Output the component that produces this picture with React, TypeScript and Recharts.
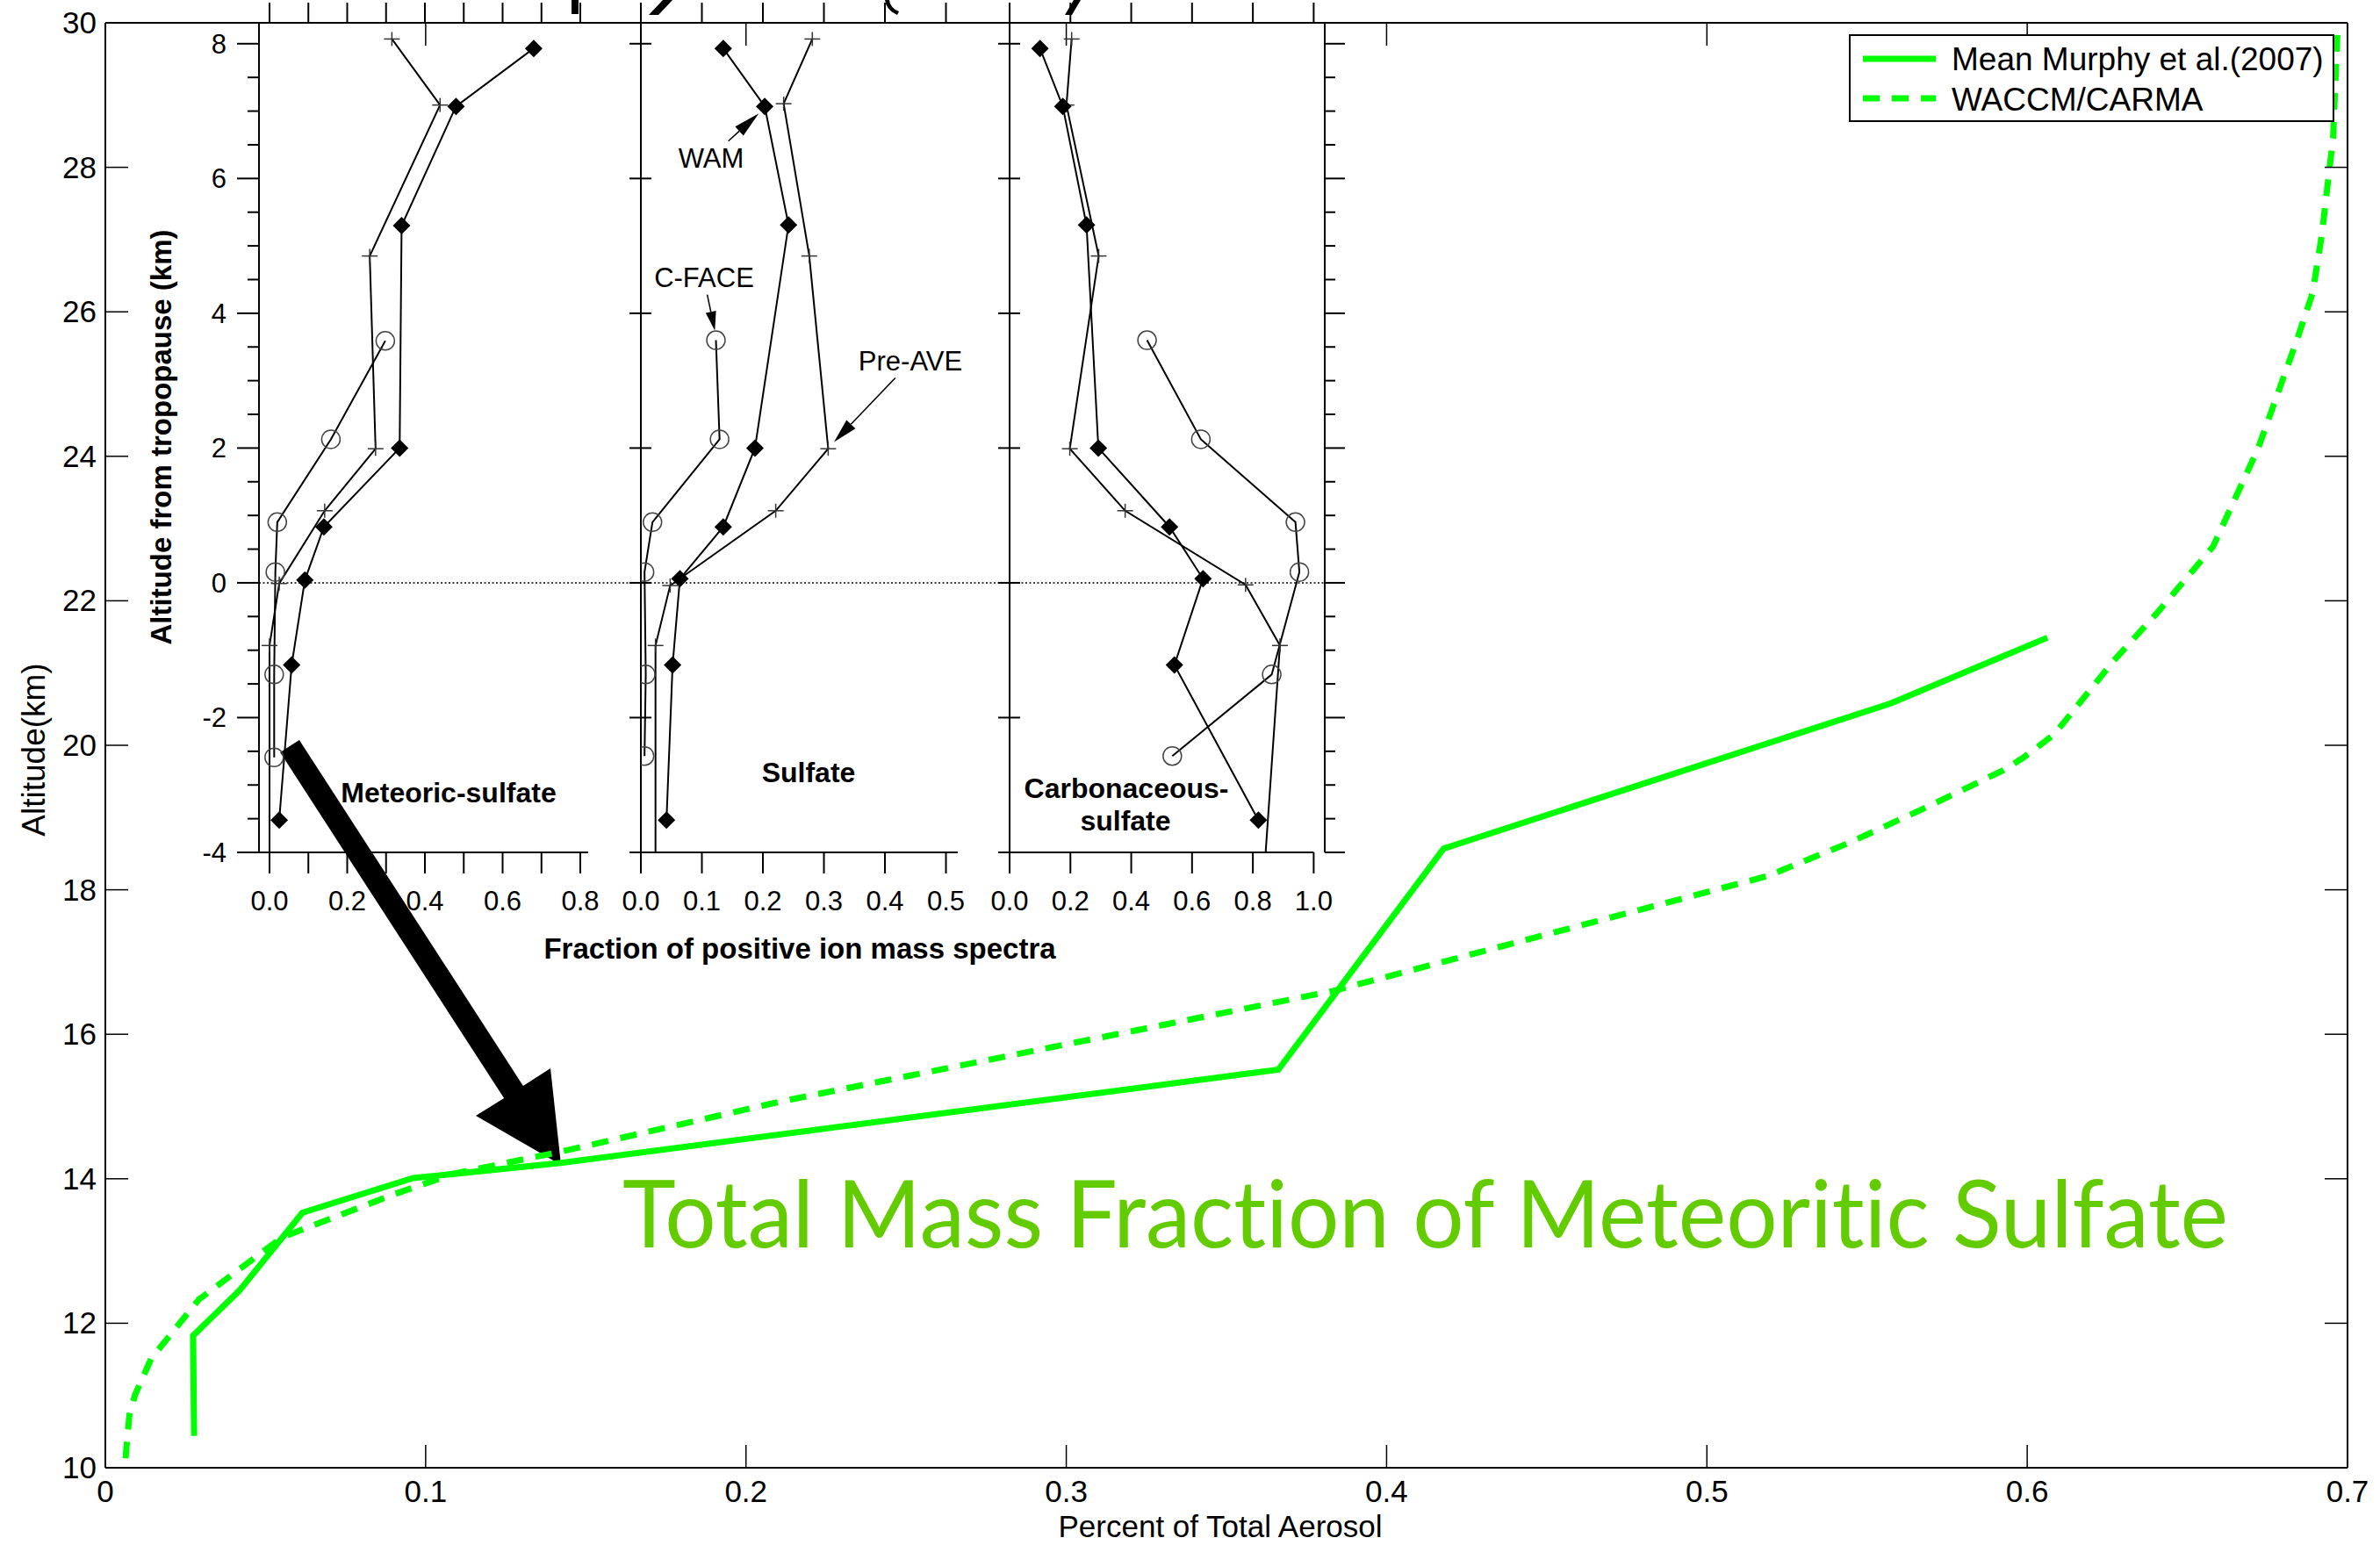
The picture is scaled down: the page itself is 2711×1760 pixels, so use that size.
import React from 'react';
import { LineChart, Line, XAxis, YAxis, ReferenceLine, Legend, Customized, Label } from 'recharts';

const W = 2711;
const H = 1760;
const FONT = '"Liberation Sans", Arial, Helvetica, sans-serif';
const GREEN = '#00ff00';
const TEXT_GREEN = '#63cc00';

// ---------------- main chart data ----------------
const mainXTicks = [0, 0.1, 0.2, 0.3, 0.4, 0.5, 0.6, 0.7];
const mainXTickLabels = ['0', '0.1', '0.2', '0.3', '0.4', '0.5', '0.6', '0.7'];
const mainYTicks = [10, 12, 14, 16, 18, 20, 22, 24, 26, 28, 30];
const mainYTickLabels = ['10', '12', '14', '16', '18', '20', '22', '24', '26', '28', '30'];

const murphyMean = [
  { x: 0.0277, y: 10.44 },
  { x: 0.0274, y: 11.83 },
  { x: 0.0418, y: 12.45 },
  { x: 0.0615, y: 13.53 },
  { x: 0.0961, y: 14.01 },
  { x: 0.1422, y: 14.22 },
  { x: 0.3662, y: 15.51 },
  { x: 0.4178, y: 18.57 },
  { x: 0.5574, y: 20.58 },
  { x: 0.6063, y: 21.49 },
];

const waccmCarma = [
  { x: 0.0063, y: 10.13 },
  { x: 0.0075, y: 10.73 },
  { x: 0.0092, y: 11.0 },
  { x: 0.0143, y: 11.51 },
  { x: 0.0292, y: 12.33 },
  { x: 0.0552, y: 13.19 },
  { x: 0.0898, y: 13.78 },
  { x: 0.1087, y: 14.07 },
  { x: 0.1417, y: 14.37 },
  { x: 0.2109, y: 15.07 },
  { x: 0.3833, y: 16.6 },
  { x: 0.5189, y: 18.19 },
  { x: 0.5444, y: 18.65 },
  { x: 0.5699, y: 19.17 },
  { x: 0.5923, y: 19.65 },
  { x: 0.5985, y: 19.82 },
  { x: 0.6084, y: 20.15 },
  { x: 0.627, y: 21.17 },
  { x: 0.6407, y: 21.84 },
  { x: 0.658, y: 22.75 },
  { x: 0.672, y: 24.1 },
  { x: 0.6842, y: 25.61 },
  { x: 0.6891, y: 26.26 },
  { x: 0.692, y: 27.07 },
  { x: 0.6941, y: 27.88 },
  { x: 0.6955, y: 28.41 },
  { x: 0.6969, y: 29.92 },
  { x: 0.6973, y: 30.0 },
];

// ---------------- inset data ----------------
const insetYMin = -4;
const insetYMax = 8.31;
const insetYTicks = [-4, -3.5, -3, -2.5, -2, -1.5, -1, -0.5, 0, 0.5, 1, 1.5, 2, 2.5, 3, 3.5, 4, 4.5, 5, 5.5, 6, 6.5, 7, 7.5, 8];
const insetYMajor = [-4, -2, 0, 2, 4, 6, 8];
const insetYTickLabels = ['-4', '-2', '0', '2', '4', '6', '8'];

const meteoricXTicks = [0, 0.1, 0.2, 0.3, 0.4, 0.5, 0.6, 0.7, 0.8];
const meteoricXTickLabels = ['0.0', '', '0.2', '', '0.4', '', '0.6', '', '0.8'];
const sulfateXTicks = [0, 0.1, 0.2, 0.3, 0.4, 0.5];
const sulfateXTickLabels = ['0.0', '0.1', '0.2', '0.3', '0.4', '0.5'];
const carbXTicks = [0, 0.2, 0.4, 0.6, 0.8, 1.0];
const carbXTickLabels = ['0.0', '0.2', '0.4', '0.6', '0.8', '1.0'];

const meteoricPreAve = [
  { x: 0.315, y: 8.07 }, { x: 0.439, y: 7.09 }, { x: 0.258, y: 4.85 }, { x: 0.273, y: 1.99 },
  { x: 0.142, y: 1.07 }, { x: 0.025, y: -0.01 }, { x: 0.0, y: -0.93 }, { x: 0.0, y: -4.0 },
];
const meteoricWam = [
  { x: 0.68, y: 7.93 }, { x: 0.48, y: 7.07 }, { x: 0.34, y: 5.3 }, { x: 0.335, y: 2.0 },
  { x: 0.14, y: 0.83 }, { x: 0.091, y: 0.04 }, { x: 0.057, y: -1.22 }, { x: 0.025, y: -3.52 },
];
const meteoricCface = [
  { x: 0.298, y: 3.59 }, { x: 0.158, y: 2.13 }, { x: 0.02, y: 0.9 }, { x: 0.015, y: 0.16 },
  { x: 0.012, y: -1.36 }, { x: 0.012, y: -2.59 },
];

const sulfatePreAve = [
  { x: 0.281, y: 8.07 }, { x: 0.234, y: 7.11 }, { x: 0.276, y: 4.85 }, { x: 0.307, y: 1.99 },
  { x: 0.221, y: 1.07 }, { x: 0.048, y: -0.04 }, { x: 0.024, y: -0.93 }, { x: 0.024, y: -4.0 },
];
const sulfateWam = [
  { x: 0.135, y: 7.93 }, { x: 0.203, y: 7.07 }, { x: 0.242, y: 5.31 }, { x: 0.187, y: 2.0 },
  { x: 0.135, y: 0.83 }, { x: 0.064, y: 0.06 }, { x: 0.052, y: -1.22 }, { x: 0.042, y: -3.52 },
];
const sulfateCface = [
  { x: 0.123, y: 3.6 }, { x: 0.129, y: 2.13 }, { x: 0.019, y: 0.9 }, { x: 0.006, y: 0.16 },
  { x: 0.008, y: -1.36 }, { x: 0.006, y: -2.57 },
];

const carbPreAve = [
  { x: 0.204, y: 8.07 }, { x: 0.187, y: 7.09 }, { x: 0.293, y: 4.85 }, { x: 0.198, y: 1.99 },
  { x: 0.38, y: 1.07 }, { x: 0.776, y: -0.03 }, { x: 0.889, y: -0.93 }, { x: 0.842, y: -4.0 },
];
const carbWam = [
  { x: 0.1, y: 7.93 }, { x: 0.175, y: 7.07 }, { x: 0.253, y: 5.31 }, { x: 0.292, y: 2.0 },
  { x: 0.526, y: 0.83 }, { x: 0.636, y: 0.06 }, { x: 0.542, y: -1.22 }, { x: 0.818, y: -3.52 },
];
const carbCface = [
  { x: 0.452, y: 3.6 }, { x: 0.629, y: 2.13 }, { x: 0.94, y: 0.9 }, { x: 0.953, y: 0.16 },
  { x: 0.862, y: -1.36 }, { x: 0.535, y: -2.57 },
];

// ---------------- layout ----------------
const MAIN = { left: 120, right: 2674, top: 26, bottom: 1672 };
const INSET_TOP = 26;
const INSET_BOTTOM = 971;
const P1 = { left: 295, right: 670, domain: [-0.0271, 0.8203] as [number, number] };
const P2 = { left: 730, right: 1091, domain: [0, 0.5194] as [number, number] };
const P3 = { left: 1150, right: 1509, domain: [0, 1.0364] as [number, number] };

const idxOf = (arr: number[], v: number) => arr.findIndex((a) => Math.abs(a - v) < 1e-9);

// ---------------- tick renderers ----------------
const mainXTick = (p: any) => {
  const { x, y, payload } = p;
  const i = idxOf(mainXTicks, payload.value);
  return (
    <g>
      <line x1={x} x2={x} y1={y} y2={y - 26} stroke="#000" strokeWidth={1.5} />
      <line x1={x} x2={x} y1={MAIN.top} y2={MAIN.top + 26} stroke="#000" strokeWidth={1.5} />
      <text x={x} y={y + 39} textAnchor="middle" fontFamily={FONT} fontSize={35} fill="#000">
        {mainXTickLabels[i]}
      </text>
    </g>
  );
};

const mainYTick = (p: any) => {
  const { x, y, payload } = p;
  const i = idxOf(mainYTicks, payload.value);
  return (
    <g>
      <line x1={x} x2={x + 26} y1={y} y2={y} stroke="#000" strokeWidth={1.5} />
      <line x1={MAIN.right} x2={MAIN.right - 26} y1={y} y2={y} stroke="#000" strokeWidth={1.5} />
      <text x={x - 10} y={y + 12} textAnchor="end" fontFamily={FONT} fontSize={35} fill="#000">
        {mainYTickLabels[i]}
      </text>
    </g>
  );
};

const makeInsetXTick = (ticks: number[], labels: string[]) => (p: any) => {
  const { x, y, payload } = p;
  const i = idxOf(ticks, payload.value);
  const lab = labels[i] || '';
  return (
    <g>
      <line x1={x} x2={x} y1={y} y2={y + 24} stroke="#000" strokeWidth={2} />
      <line x1={x} x2={x} y1={INSET_TOP} y2={3} stroke="#000" strokeWidth={2} />
      {lab ? (
        <text x={x} y={y + 66} textAnchor="middle" fontFamily={FONT} fontSize={31} fill="#000">
          {lab}
        </text>
      ) : null}
    </g>
  );
};

const makeInsetYTick = (mode: 'outer' | 'cross' | 'crossRight', rightX: number) => (p: any) => {
  const { x, y, payload } = p;
  const v = payload.value;
  const mi = idxOf(insetYMajor, v);
  const major = mi >= 0;
  if (mode === 'outer') {
    return (
      <g>
        <line x1={x - (major ? 25 : 13)} x2={x} y1={y} y2={y} stroke="#000" strokeWidth={2} />
        {major ? (
          <text x={x - 37} y={y + 11} textAnchor="end" fontFamily={FONT} fontSize={31} fill="#000">
            {insetYTickLabels[mi]}
          </text>
        ) : null}
      </g>
    );
  }
  return (
    <g>
      {major ? <line x1={x - 13} x2={x + 12} y1={y} y2={y} stroke="#000" strokeWidth={2} /> : null}
      {mode === 'crossRight' ? (
        <line x1={rightX} x2={rightX + (major ? 23 : 12)} y1={y} y2={y} stroke="#000" strokeWidth={2} />
      ) : null}
    </g>
  );
};

// ---------------- markers ----------------
const renderPlus = (p: any) => {
  const { cx, cy, payload, index } = p;
  if (cx == null || cy == null || payload.y <= insetYMin + 1e-6) return <g key={`pl${index}`} />;
  return (
    <g key={`pl${index}`}>
      <line x1={cx - 9} x2={cx + 9} y1={cy} y2={cy} stroke="#333" strokeWidth={1.5} />
      <line x1={cx} x2={cx} y1={cy - 8} y2={cy + 8} stroke="#333" strokeWidth={1.5} />
    </g>
  );
};
const renderDiamond = (p: any) => {
  const { cx, cy, index } = p;
  if (cx == null || cy == null) return <g key={`d${index}`} />;
  return (
    <path
      key={`d${index}`}
      d={`M${cx},${cy - 10}L${cx + 10},${cy}L${cx},${cy + 10}L${cx - 10},${cy}Z`}
      fill="#000"
    />
  );
};
const renderCircle = (p: any) => {
  const { cx, cy, index } = p;
  if (cx == null || cy == null) return <g key={`c${index}`} />;
  return <circle key={`c${index}`} cx={cx} cy={cy} r={10.5} fill="none" stroke="#444" strokeWidth={1.5} />;
};

// ---------------- decorations ----------------
function Arrow({ x1, y1, x2, y2, head, half }: { x1: number; y1: number; x2: number; y2: number; head: number; half: number }) {
  const dx = x2 - x1;
  const dy = y2 - y1;
  const len = Math.hypot(dx, dy);
  const ux = dx / len;
  const uy = dy / len;
  const bx = x2 - ux * head;
  const by = y2 - uy * head;
  const nx = -uy;
  const ny = ux;
  return (
    <g>
      <line x1={x1} y1={y1} x2={bx} y2={by} stroke="#000" strokeWidth={1.5} />
      <path d={`M${x2},${y2}L${bx + nx * half},${by + ny * half}L${bx - nx * half},${by - ny * half}Z`} fill="#000" />
    </g>
  );
}

const MainDecor = () => (
  <g>
    <path
      d="M340.9,842.9 L595.9,1236.9 L627,1217 L639,1327 L542,1271 L574.1,1251.1 L319.1,857.1 Z"
      fill="#000"
    />
    <text
      x={709}
      y={1421}
      fontFamily="Lato, 'Gill Sans', 'Noto Sans', sans-serif"
      fontSize={106}
      fill={TEXT_GREEN}
      textLength={1829}
      lengthAdjust="spacingAndGlyphs"
      style={{ fontVariantLigatures: 'none' }}
    >
      Total Mass Fraction of Meteoritic Sulfate
    </text>
  </g>
);

const InsetDecor = () => (
  <g fontFamily={FONT} fill="#000">
    {/* cropped bottoms of the inset's original title glyphs */}
    <path d="M651,0 L659,0 L659,16 L651,16 Z" fill="#000" />
    <path d="M755,0 L766,0 L750,17 L739,17 Z" fill="#000" />
    <path d="M1008,0 L1013,0 Q1014,9 1024,13 L1022,17 Q1010,12 1008,0 Z" fill="#000" />
    <path d="M1223,0 L1231,0 L1221,17 L1213,17 Z" fill="#000" />
    <text x={183} y={498} transform="rotate(-90 183 498)" textAnchor="middle" dominantBaseline="central" fontSize={33} fontWeight="bold">
      Altitude from tropopause (km)
    </text>
    <text x={911} y={1092} textAnchor="middle" fontSize={33} fontWeight="bold">
      Fraction of positive ion mass spectra
    </text>
    <text x={511} y={914} textAnchor="middle" fontSize={32} fontWeight="bold">Meteoric-sulfate</text>
    <text x={921} y={891} textAnchor="middle" fontSize={32} fontWeight="bold">Sulfate</text>
    <text x={1283} y={909} textAnchor="middle" fontSize={32} fontWeight="bold">Carbonaceous-</text>
    <text x={1282} y={946} textAnchor="middle" fontSize={32} fontWeight="bold">sulfate</text>
    <text x={810} y={191} textAnchor="middle" fontSize={31}>WAM</text>
    <text x={802} y={327} textAnchor="middle" fontSize={31}>C-FACE</text>
    <text x={1037} y={422} textAnchor="middle" fontSize={31}>Pre-AVE</text>
    <Arrow x1={829.6} y1={160.7} x2={864.3} y2={129.3} head={30} half={7} />
    <Arrow x1={805.6} y1={335.7} x2={814.3} y2={376.8} head={22} half={6} />
    <Arrow x1={1019.9} y1={430.4} x2={950} y2={503.6} head={28} half={7} />
  </g>
);

const LegendBox = () => (
  <svg width={553} height={100} style={{ display: 'block' }}>
    <rect x={1} y={1} width={551} height={98} fill="#fff" stroke="#000" strokeWidth={2} />
    <line x1={16} x2={99} y1={28} y2={28} stroke={GREEN} strokeWidth={7} />
    <text x={117} y={41} fontFamily={FONT} fontSize={37} fill="#000">Mean Murphy et al.(2007)</text>
    <line x1={16} x2={99} y1={73} y2={73} stroke={GREEN} strokeWidth={7} strokeDasharray="19 14" />
    <text x={117} y={87} fontFamily={FONT} fontSize={37} fill="#000">WACCM/CARMA</text>
  </svg>
);

// ---------------- panel ----------------
type Pt = { x: number; y: number };
function Panel(props: {
  left: number;
  right: number;
  domain: [number, number];
  xTicks: number[];
  xTickLabels: string[];
  mode: 'outer' | 'cross' | 'crossRight';
  pre: Pt[];
  wam: Pt[];
  cface: Pt[];
}) {
  const { left, right, domain, xTicks, xTickLabels, mode, pre, wam, cface } = props;
  const withRight = mode === 'crossRight';
  return (
    <div style={{ position: 'absolute', left: 0, top: 0 }}>
      <LineChart
        width={W}
        height={H}
        margin={{ top: INSET_TOP, bottom: H - INSET_BOTTOM - 1, left: left - 1, right: W - right }}
      >
        <XAxis
          type="number"
          dataKey="x"
          domain={domain}
          allowDataOverflow
          ticks={xTicks}
          interval={0}
          height={1}
          tickSize={0}
          tickMargin={0}
          tickLine={false}
          axisLine={withRight ? false : { stroke: '#000', strokeWidth: 2 }}
          tick={makeInsetXTick(xTicks, xTickLabels)}
        />
        <YAxis
          type="number"
          domain={[insetYMin, insetYMax]}
          allowDataOverflow
          ticks={insetYTicks}
          interval={0}
          width={1}
          tickSize={0}
          tickMargin={0}
          tickLine={false}
          axisLine={{ stroke: '#000', strokeWidth: 2 }}
          tick={makeInsetYTick(mode, right)}
        />
        {withRight ? <ReferenceLine x={domain[1]} stroke="#000" strokeWidth={2} ifOverflow="visible" /> : null}
        {withRight ? (
          <ReferenceLine
            segment={[{ x: 0, y: insetYMin }, { x: 1, y: insetYMin }]}
            stroke="#000"
            strokeWidth={2}
            ifOverflow="visible"
          />
        ) : null}
        <Line data={pre} dataKey="y" stroke="#000" strokeWidth={2} dot={renderPlus} activeDot={false} isAnimationActive={false} />
        <Line data={wam} dataKey="y" stroke="#000" strokeWidth={2} dot={renderDiamond} activeDot={false} isAnimationActive={false} />
        <Line data={cface} dataKey="y" stroke="#000" strokeWidth={2} dot={renderCircle} activeDot={false} isAnimationActive={false} />
      </LineChart>
    </div>
  );
}

export default function App() {
  return (
    <div style={{ position: 'absolute', left: 0, top: 0, width: W, height: H, background: '#fff', overflow: 'hidden' }}>
      <div style={{ position: 'absolute', left: 0, top: 0 }}>
        <LineChart
          width={W}
          height={H}
          margin={{ top: MAIN.top, right: W - MAIN.right, bottom: H - MAIN.bottom - 1, left: MAIN.left - 1 }}
        >
          <XAxis
            type="number"
            dataKey="x"
            domain={[0, 0.7]}
            allowDataOverflow
            ticks={mainXTicks}
            interval={0}
            height={1}
            tickSize={0}
            tickMargin={0}
            tickLine={false}
            axisLine={{ stroke: '#000', strokeWidth: 2 }}
            tick={mainXTick}
          >
            <Label
              content={(lp: any) => {
                const vb = lp.viewBox || { x: 120, y: 1672, width: 2554 };
                return (
                  <text x={vb.x + vb.width / 2 - 7} y={vb.y + 79} textAnchor="middle" fontFamily={FONT} fontSize={35} fill="#000">
                    Percent of Total Aerosol
                  </text>
                );
              }}
            />
          </XAxis>
          <YAxis
            type="number"
            domain={[10, 30]}
            allowDataOverflow
            ticks={mainYTicks}
            interval={0}
            width={1}
            tickSize={0}
            tickMargin={0}
            tickLine={false}
            axisLine={{ stroke: '#000', strokeWidth: 2 }}
            tick={mainYTick}
          >
            <Label
              content={(lp: any) => {
                const vb = lp.viewBox || { x: 119, y: 26, height: 1646 };
                const cx = 38;
                const cy = vb.y + vb.height / 2 + 5;
                return (
                  <text
                    x={cx}
                    y={cy}
                    transform={`rotate(-90 ${cx} ${cy})`}
                    textAnchor="middle"
                    dominantBaseline="central"
                    fontFamily={FONT}
                    fontSize={37}
                    fill="#000"
                  >
                    Altitude(km)
                  </text>
                );
              }}
            />
          </YAxis>
          <ReferenceLine x={0.7} stroke="#000" strokeWidth={2} ifOverflow="visible" />
          <ReferenceLine y={30} stroke="#000" strokeWidth={2} ifOverflow="visible" />
          <Customized component={MainDecor} />
          <Line
            data={murphyMean}
            dataKey="y"
            name="Mean Murphy et al.(2007)"
            stroke={GREEN}
            strokeWidth={7}
            dot={false}
            activeDot={false}
            isAnimationActive={false}
          />
          <Line
            data={waccmCarma}
            dataKey="y"
            name="WACCM/CARMA"
            stroke={GREEN}
            strokeWidth={7}
            strokeDasharray="19 14"
            dot={false}
            activeDot={false}
            isAnimationActive={false}
          />
          <Legend
            layout="vertical"
            align="center"
            verticalAlign="middle"
            wrapperStyle={{ position: 'absolute', left: 2106, top: 39, width: 553, height: 100 }}
            content={() => <LegendBox />}
          />
        </LineChart>
      </div>

      <div style={{ position: 'absolute', left: 0, top: 0 }}>
        <LineChart width={W} height={H} margin={{ top: INSET_TOP, bottom: H - INSET_BOTTOM, left: P1.left, right: W - P3.right }}>
          <XAxis type="number" dataKey="x" domain={[0, 1]} allowDataOverflow hide />
          <YAxis type="number" domain={[insetYMin, insetYMax]} allowDataOverflow hide />
          <ReferenceLine y={0} stroke="#000" strokeWidth={1.5} strokeDasharray="2 2.5" ifOverflow="visible" />
          <Customized component={InsetDecor} />
        </LineChart>
      </div>

      <Panel
        left={P1.left}
        right={P1.right}
        domain={P1.domain}
        xTicks={meteoricXTicks}
        xTickLabels={meteoricXTickLabels}
        mode="outer"
        pre={meteoricPreAve}
        wam={meteoricWam}
        cface={meteoricCface}
      />
      <Panel
        left={P2.left}
        right={P2.right}
        domain={P2.domain}
        xTicks={sulfateXTicks}
        xTickLabels={sulfateXTickLabels}
        mode="cross"
        pre={sulfatePreAve}
        wam={sulfateWam}
        cface={sulfateCface}
      />
      <Panel
        left={P3.left}
        right={P3.right}
        domain={P3.domain}
        xTicks={carbXTicks}
        xTickLabels={carbXTickLabels}
        mode="crossRight"
        pre={carbPreAve}
        wam={carbWam}
        cface={carbCface}
      />
    </div>
  );
}
